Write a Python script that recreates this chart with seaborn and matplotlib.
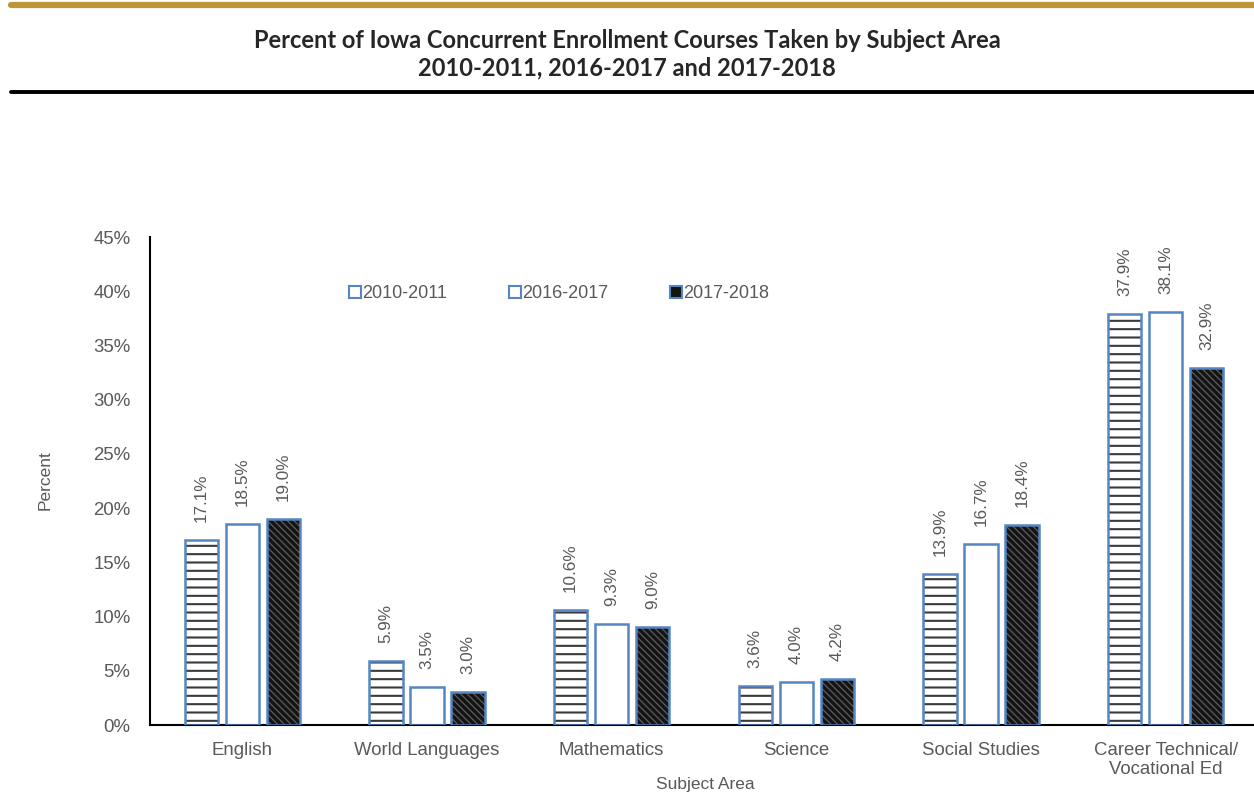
import pandas as pd
import seaborn as sns
import matplotlib.pyplot as plt
from matplotlib.patches import Rectangle
from matplotlib.lines import Line2D
from matplotlib.ticker import FuncFormatter

subjects = ["English", "World Languages", "Mathematics", "Science",
            "Social Studies", "Career Technical/\nVocational Ed"]
years = ["2010-2011", "2016-2017", "2017-2018"]
pct_2010 = [17.1, 5.9, 10.6, 3.6, 13.9, 37.9]
pct_2016 = [18.5, 3.5, 9.3, 4.0, 16.7, 38.1]
pct_2017 = [19.0, 3.0, 9.0, 4.2, 18.4, 32.9]

EDGE = "#5585C3"
GREY = "#595959"

df = pd.DataFrame({
    "Subject": subjects * 3,
    "Year": [years[0]] * 6 + [years[1]] * 6 + [years[2]] * 6,
    "Percent": pct_2010 + pct_2016 + pct_2017,
})

sns.set_style("white")
plt.rcParams["font.family"] = ["Liberation Sans", "DejaVu Sans"]

fig = plt.figure(figsize=(12.54, 7.96), dpi=100)
ax = fig.add_axes([150 / 1254, 1 - 725 / 796, 1108 / 1254, (725 - 237) / 796])

sns.barplot(data=df, x="Subject", y="Percent", hue="Year", order=subjects,
            hue_order=years, palette=["white", "white", "#141414"],
            width=0.666, gap=0.19, dodge=True, legend=False, ax=ax)

# hatch per series: (hatch, hatch colour, hatch linewidth)
styles = [("--", "#3a3a3a", 1.5), ("", "white", 1.0), ("\\\\\\\\\\", "#5e5e5e", 0.9)]
bars = [p for p in ax.patches if isinstance(p, Rectangle)]
for i, p in enumerate(bars):
    hatch, hcol, hlw = styles[i // 6]
    p.set_linewidth(0)
    xy, w, h = (p.get_x(), p.get_y()), p.get_width(), p.get_height()
    if hatch:
        with plt.rc_context({"hatch.linewidth": hlw}):
            hp = Rectangle(xy, w, h, fill=False, hatch=hatch, edgecolor=hcol,
                           linewidth=0, zorder=2.5)
            if hasattr(hp, "set_hatch_linewidth"):
                hp.set_hatch_linewidth(hlw)
            ax.add_patch(hp)
    ax.add_patch(Rectangle(xy, w, h, fill=False, edgecolor=EDGE, linewidth=1.8, zorder=3))

for c in ax.containers:
    ax.bar_label(c, labels=[f"{v:.1f}%" for v in c.datavalues], rotation=90,
                 padding=13, fontsize=12.3, color=GREY)

ax.set_ylim(0, 45)
ax.set_xlim(-0.5, 5.5)
ax.set_yticks(range(0, 46, 5))
ax.yaxis.set_major_formatter(FuncFormatter(lambda v, _: f"{v:.0f}%"))
ax.tick_params(axis="both", length=0, labelsize=13.4, labelcolor=GREY)
ax.tick_params(axis="x", pad=12)
ax.tick_params(axis="y", pad=14)
sns.despine(ax=ax, top=True, right=True)
for s in ("left", "bottom"):
    ax.spines[s].set_color("black")
    ax.spines[s].set_linewidth(1.5)
ax.set_xlabel("Subject Area", fontsize=12.5, color=GREY, va="center")
ax.xaxis.set_label_coords((705 - 150) / 1108, (725 - 785) / 488)
ax.set_ylabel("")
fig.text(45 / 1254, 1 - 480 / 796, "Percent", rotation=90, ha="center", va="center",
         fontsize=12.5, color=GREY)

handles = [Rectangle((0, 0), 1, 1, facecolor=f, edgecolor=EDGE, linewidth=1.5)
           for f in ["white", "white", "#141414"]]
ax.legend(handles, years, loc="upper left", bbox_to_anchor=(0.165, 0.935), ncol=3,
          frameon=False, fontsize=13, handlelength=0.65, handleheight=0.65,
          handletextpad=0.1, columnspacing=3.4, labelcolor=GREY)

# header decoration
fig.add_artist(Line2D([11 / 1254, 1], [1 - 5 / 796] * 2, color="#C0953A", linewidth=4.5))
fig.add_artist(Line2D([11 / 1254, 1], [1 - 91.5 / 796] * 2, color="black", linewidth=2.8))
fig.text(0.5, 1 - 40 / 796, "Percent of Iowa Concurrent Enrollment Courses Taken by Subject Area",
         ha="center", va="center", fontsize=17, fontweight="bold", family=["Lato", "DejaVu Sans"])
fig.text(0.5, 1 - 68 / 796, "2010-2011, 2016-2017 and 2017-2018",
         ha="center", va="center", fontsize=17, fontweight="bold", family=["Lato", "DejaVu Sans"])

fig.savefig("out.png", dpi=100)
